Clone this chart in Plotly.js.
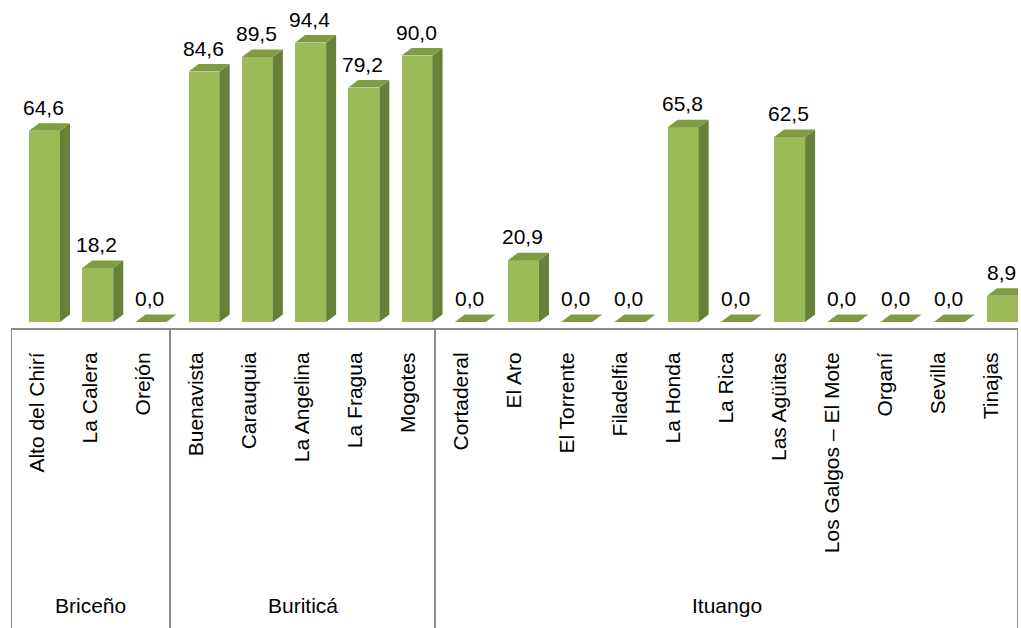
<!DOCTYPE html>
<html>
<head>
<meta charset="utf-8">
<script src="https://cdn.plot.ly/plotly-3.0.1.min.js"></script>
<style>html,body{margin:0;padding:0;background:#fff;}#chart{width:1021px;height:628px;}</style>
</head>
<body>
<div id="chart"></div>
<script>
// ---- data ----
const categories = ['Alto del Chirí','La Calera','Orejón','Buenavista','Carauquia','La Angelina','La Fragua','Mogotes','Cortaderal','El Aro','El Torrente','Filadelfia','La Honda','La Rica','Las Agüitas','Los Galgos – El Mote','Organí','Sevilla','Tinajas'];
const values = [64.6, 18.2, 0.0, 84.6, 89.5, 94.4, 79.2, 90.0, 0.0, 20.9, 0.0, 0.0, 65.8, 0.0, 62.5, 0.0, 0.0, 0.0, 8.9];
const groups = ['Briceño','Buriticá','Ituango'];
const groupSizes = [3, 5, 11];

// ---- geometry / style ----
const W = 1021, H = 628;
const mL = 11, mR = 3, mT = 26, mB = 300;
const n = categories.length;
const pxPerX = (W - mL - mR) / n;          // px per category
const yMin = -2.03, yMax = 100;
const pxPerY = (H - mT - mB) / (yMax - yMin);
const frontW = 31 / pxPerX;
const depthX = 10 / pxPerX;
const depthY = 7.5 / pxPerY;
const cFront = '#9bbb59', cTop = '#7f9c44', cSide = '#67803a';
const font = '"Liberation Sans", Arial, sans-serif';
const fs = 21;

const idx = categories.map((_, i) => i);
const xc = idx.map(i => i + (7 + 4 * i / (n - 1)) / pxPerX);

// top and side faces
const topX = [], topY = [], sideX = [], sideY = [];
values.forEach((v, i) => {
  const l = xc[i] - frontW / 2, r = xc[i] + frontW / 2;
  topX.push(l, r, r + depthX, l + depthX, l, null);
  topY.push(v, v, v + depthY, v + depthY, v, null);
  if (v > 0) {
    sideX.push(r, r, r + depthX, r + depthX, r, null);
    sideY.push(0, v, v + depthY, depthY, 0, null);
  }
});

const traces = [
  {type: 'bar', x: xc, y: values, width: frontW, marker: {color: cFront, line: {width: 0}}, hoverinfo: 'skip'},
  {type: 'scatter', mode: 'none', x: sideX, y: sideY, fill: 'toself', fillcolor: cSide, hoverinfo: 'skip'},
  {type: 'scatter', mode: 'none', x: topX, y: topY, fill: 'toself', fillcolor: cTop, hoverinfo: 'skip'}
];

const annotations = values.map((v, i) => ({
  x: xc[i] - 1 / pxPerX, y: v, xref: 'x', yref: 'y', text: v.toFixed(1).replace('.', ','),
  showarrow: false, yanchor: 'bottom', xanchor: 'center', yshift: 10,
  font: {family: font, size: fs, color: '#000'}
}));

// group labels and divider lines
const shapes = [];
let start = 0;
const bounds = [-0.5];
groups.forEach((g, k) => {
  const end = start + groupSizes[k];
  annotations.push({
    x: (start + end - 1) / 2, y: -277 / (H - mT - mB), xref: 'x', yref: 'paper',
    text: g, showarrow: false, xanchor: 'center', yanchor: 'middle',
    font: {family: font, size: fs, color: '#000'}
  });
  bounds.push(end - 0.5);
  start = end;
});
bounds.forEach(b => shapes.push({
  type: 'line', xref: 'x', yref: 'paper', x0: b, x1: b, y0: 0, y1: -mB / (H - mT - mB),
  line: {color: '#8c8c8c', width: 2}
}));

const layout = {
  width: W, height: H,
  margin: {l: mL, r: mR, t: mT, b: mB, pad: 0},
  paper_bgcolor: '#fff', plot_bgcolor: '#fff',
  showlegend: false,
  font: {family: font},
  xaxis: {
    range: [-0.5, n - 0.5], tickmode: 'array', tickvals: idx, ticktext: categories,
    tickangle: -90, ticks: '', ticklabelstandoff: 14,
    showline: true, linecolor: '#8c8c8c', linewidth: 2, showgrid: false, zeroline: false,
    tickfont: {family: font, size: fs, color: '#000'}, fixedrange: true
  },
  yaxis: {range: [yMin, yMax], visible: false, showgrid: false, zeroline: false, fixedrange: true},
  annotations: annotations,
  shapes: shapes,
  bargap: 0
};

Plotly.newPlot('chart', traces, layout, {displayModeBar: false, staticPlot: true});
</script>
</body>
</html>
